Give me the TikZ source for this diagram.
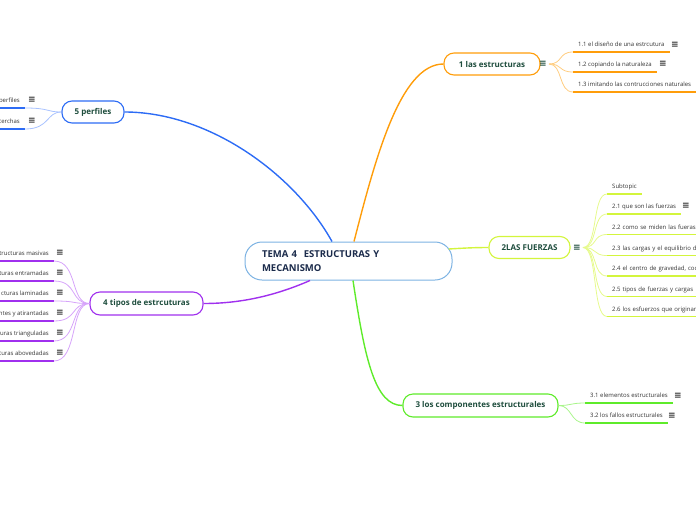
\documentclass[tikz,border=0pt]{standalone}
\usepackage{fontspec}
\setmainfont{Open Sans}
\newfontfamily\symf{DejaVu Sans}
\definecolor{cblue}{HTML}{7DB3E3}
\definecolor{navy}{HTML}{1B2B4B}
\definecolor{tgreen}{HTML}{1E4D3D}
\definecolor{stext}{HTML}{333333}
\definecolor{bl}{HTML}{2D6CF5}
\definecolor{bll}{HTML}{A8C2FF}
\definecolor{orn}{HTML}{FF9D0A}
\definecolor{orl}{HTML}{FFCD80}
\definecolor{yg}{HTML}{D3F53C}
\definecolor{ygl}{HTML}{E6FA8C}
\definecolor{grn}{HTML}{5EEB2A}
\definecolor{grl}{HTML}{A8F58A}
\definecolor{pu}{HTML}{A030EE}
\definecolor{pul}{HTML}{D6A3FA}
\begin{document}
\begin{tikzpicture}[x=1pt,y=-1pt,
  central/.style={draw=cblue, line width=1pt, fill=white, rounded corners=17pt,
    minimum height=38pt, inner xsep=17pt, text width=173pt, align=left,
    font=\fontsize{9.5}{14}\selectfont\bfseries, text=navy},
  topic/.style={draw, rounded corners=10pt, line width=1.1pt, fill=white,
    minimum height=22pt, inner xsep=0pt, font=\fontsize{8}{9}\selectfont\bfseries, text=tgreen},
  sub/.style={inner xsep=5pt, inner ysep=0pt, text height=4.5pt, text depth=5pt,
    font=\fontsize{6}{7}\selectfont, text=stext},
  icon/.style={inner sep=0pt, font=\symf\bfseries\fontsize{9}{9}\selectfont, text=stext},
  ticon/.style={inner sep=0pt, font=\symf\bfseries\fontsize{9}{9}\selectfont, text=tgreen},
  mainline/.style={line width=1.4pt},
  uline/.style={line width=1.6pt},
  subline/.style={line width=0.8pt}
]
\useasboundingbox (0,0) rectangle (696,520);
\clip (0,0) rectangle (696,520);

% central
\node[central] (c) at (348.5,261) {TEMA 4\hspace{0.4em} ESTRUCTURAS Y\\MECANISMO};

% topics
\node[topic, draw=orn, minimum width=96pt] (t1) at (492,64) {1 las estructuras};
\node[topic, draw=yg, minimum width=81pt] (t2) at (529.5,247.5) {2LAS FUERZAS};
\node[topic, draw=grn, minimum width=155pt, minimum height=23pt] (t3) at (480.5,405.5) {3 los componentes estructurales};
\node[topic, draw=pu, minimum width=113pt, minimum height=23pt] (t4) at (146.5,303.5) {4 tipos de estrcuturas};
\node[topic, draw=bl, minimum width=62pt] (t5) at (93,112) {5 perfiles};

% main connectors
\draw[mainline, orn] ([xshift=5.5pt]c.north) .. controls (375,160) and (400,64) .. (t1.west);
\draw[mainline, yg] ([xshift=-3.8pt,yshift=12pt]c.east) .. controls (465,248) and (475,247.5) .. (t2.west);
\draw[mainline, grn] ([xshift=4.5pt]c.south) .. controls (365,360) and (375,405.5) .. (t3.west);
\draw[mainline, pu] ([xshift=-38.5pt]c.south) .. controls (270,298) and (235,303.5) .. (t4.east);
\draw[mainline, bl] ([xshift=-16.5pt]c.north) .. controls (295,175) and (210,112) .. (t5.east);

% topic icons
\node[ticon] (i1) at (543,64) {≡};
\node[ticon] (i2) at (577,247.5) {≡};
\coordinate (h1) at (549,64);
\coordinate (h2) at (583,247.5);

% topic 1 subtopics
\node[sub, anchor=south west] (s11) at (573,52) {1.1 el diseño de una estrcutura};
\node[sub, anchor=south west] (s12) at (573,72) {1.2 copiando la naturaleza};
\node[sub, anchor=south west] (s13) at (573,92) {1.3 imitando las contrucciones naturales};
\node[icon] (j11) at (675,45) {≡};
\node[icon] (j12) at (663,64) {≡};
\foreach \s in {s11,s12,s13}{
  \draw[uline, orn] (\s.south west) -- (\s.south east);
  \draw[subline, orl] (h1) .. controls (563,64) and (558,0|-\s.south) .. (\s.south west);
}

% topic 2 subtopics
\node[sub, anchor=south west] (s20) at (607,194) {Subtopic};
\node[sub, anchor=south west] (s21) at (607,214) {2.1 que son las fuerzas};
\node[sub, anchor=south west, text width=95pt, align=left] (s22) at (607,234.5) {2.2 como se miden las fueras};
\node[sub, anchor=south west, text width=95pt, align=left] (s23) at (607,255.5) {2.3 las cargas y el equilibrio de};
\node[sub, anchor=south west, text width=95pt, align=left] (s24) at (607,276) {2.4 el centro de gravedad, coc};
\node[sub, anchor=south west, text width=95pt, align=left] (s25) at (607,296.5) {2.5 tipos de fuerzas y cargas};
\node[sub, anchor=south west, text width=95pt, align=left] (s26) at (607,316.5) {2.6 los esfuerzos que originan};
\node[icon] (j21) at (686,206) {≡};
\foreach \s in {s20,s21,s22,s23,s24,s25,s26}{
  \draw[uline, yg] (\s.south west) -- (\s.south east);
  \draw[subline, ygl] (h2) .. controls (598,247.5) and (592,0|-\s.south) .. (\s.south west);
}

% topic 3 subtopics
\node[sub, anchor=south west] (s31) at (585,403) {3.1 elementos estructurales};
\node[sub, anchor=south west] (s32) at (585,423) {3.2 los fallos estructurales};
\node[icon] (j31) at (678,396) {≡};
\node[icon] (j32) at (672,416) {≡};
\foreach \s in {s31,s32}{
  \draw[uline, grn] (\s.south west) -- (\s.south east);
  \draw[subline, grl] (t3.east) .. controls (572,405.5) and (570,0|-\s.south) .. (\s.south west);
}

% topic 4 subtopics
\node[sub, anchor=south east] (s41) at (54,261) {tructuras masivas};
\node[sub, anchor=south east] (s42) at (54,281) {turas entramadas};
\node[sub, anchor=south east] (s43) at (54,301) {cturas laminadas};
\node[sub, anchor=south east] (s44) at (54,321) {ntes y atirantadas};
\node[sub, anchor=south east] (s45) at (54,341) {turas trianguladas};
\node[sub, anchor=south east] (s46) at (54,361) {cturas abovedadas};
\node[icon] (j41) at (60,253) {≡};
\node[icon] (j42) at (60,273) {≡};
\node[icon] (j43) at (60,293) {≡};
\node[icon] (j44) at (60,313) {≡};
\node[icon] (j45) at (60,333) {≡};
\node[icon] (j46) at (60,353) {≡};
\foreach \s in {s41,s42,s43,s44,s45,s46}{
  \draw[uline, pu] ([xshift=-70pt]\s.south east) -- (\s.south east);
  \draw[subline, pul] (t4.west) .. controls (70,303.5) and (78,0|-\s.south) .. (\s.south east);
}

% topic 5 subtopics
\node[sub, anchor=south east] (s51) at (25,108) {perfiles};
\node[sub, anchor=south east] (s52) at (25,129) {cerchas};
\node[icon] (j51) at (32,100) {≡};
\node[icon] (j52) at (32,121) {≡};
\foreach \s in {s51,s52}{
  \draw[uline, bl] ([xshift=-40pt]\s.south east) -- (\s.south east);
  \draw[subline, bll] (t5.west) .. controls (46,112) and (50,0|-\s.south) .. (\s.south east);
}
\end{tikzpicture}
\end{document}
